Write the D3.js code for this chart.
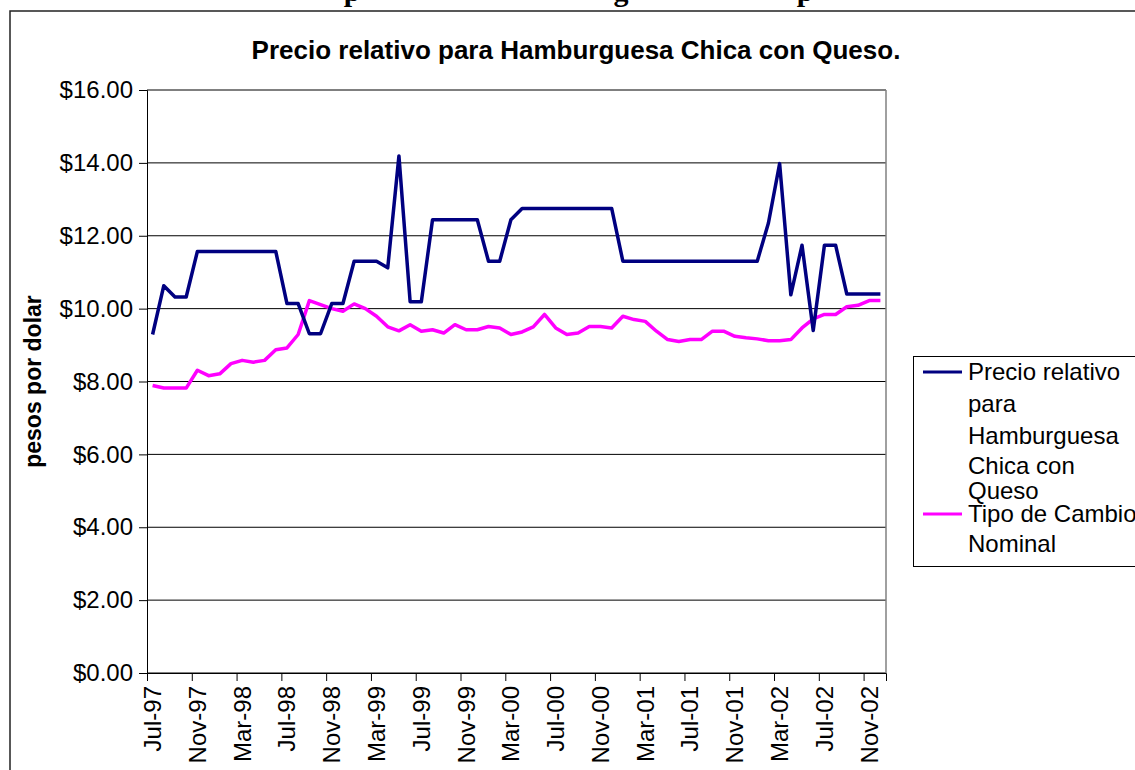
<!DOCTYPE html>
<html>
<head>
<meta charset="utf-8">
<script src="https://cdn.jsdelivr.net/npm/d3@7"></script>
<style>
  html, body { margin: 0; padding: 0; background: #fff; }
  svg { display: block; font-family: "Liberation Sans", Arial, sans-serif; }
</style>
</head>
<body>
<svg id="chart" width="1135" height="770"></svg>
<script>
// ---- data ----
const months = [
  "Jul-97","Aug-97","Sep-97","Oct-97","Nov-97","Dec-97",
  "Jan-98","Feb-98","Mar-98","Apr-98","May-98","Jun-98","Jul-98","Aug-98","Sep-98","Oct-98","Nov-98","Dec-98",
  "Jan-99","Feb-99","Mar-99","Apr-99","May-99","Jun-99","Jul-99","Aug-99","Sep-99","Oct-99","Nov-99","Dec-99",
  "Jan-00","Feb-00","Mar-00","Apr-00","May-00","Jun-00","Jul-00","Aug-00","Sep-00","Oct-00","Nov-00","Dec-00",
  "Jan-01","Feb-01","Mar-01","Apr-01","May-01","Jun-01","Jul-01","Aug-01","Sep-01","Oct-01","Nov-01","Dec-01",
  "Jan-02","Feb-02","Mar-02","Apr-02","May-02","Jun-02","Jul-02","Aug-02","Sep-02","Oct-02","Nov-02","Dec-02"
];
const precioRelativo = [
  9.29, 10.63, 10.32, 10.32, 11.57, 11.57, 11.57, 11.57, 11.57, 11.57, 11.57, 11.57,
  10.14, 10.14, 9.31, 9.31, 10.14, 10.14, 11.30, 11.30, 11.30, 11.12, 14.19, 10.19,
  10.19, 12.44, 12.44, 12.44, 12.44, 12.44, 11.30, 11.30, 12.44, 12.75, 12.75, 12.75,
  12.75, 12.75, 12.75, 12.75, 12.75, 12.75, 11.30, 11.30, 11.30, 11.30, 11.30, 11.30,
  11.30, 11.30, 11.30, 11.30, 11.30, 11.30, 11.30, 12.35, 13.98, 10.38, 11.74, 9.40,
  11.74, 11.74, 10.40, 10.40, 10.40, 10.40
];
const tipoCambio = [
  7.89, 7.82, 7.82, 7.82, 8.31, 8.16, 8.21, 8.49, 8.58, 8.53, 8.58, 8.87,
  8.92, 9.29, 10.22, 10.11, 10.00, 9.93, 10.13, 10.00, 9.79, 9.50, 9.39, 9.56,
  9.38, 9.42, 9.33, 9.56, 9.42, 9.42, 9.51, 9.47, 9.29, 9.36, 9.50, 9.84,
  9.47, 9.29, 9.33, 9.51, 9.51, 9.47, 9.79, 9.70, 9.65, 9.38, 9.15, 9.10,
  9.15, 9.15, 9.38, 9.38, 9.24, 9.20, 9.17, 9.12, 9.12, 9.15, 9.47, 9.72,
  9.84, 9.84, 10.05, 10.09, 10.22, 10.22
];
const seriesNames = ["Precio relativo para Hamburguesa Chica con Queso", "Tipo de Cambio Nominal"];
const yTicks = [0, 2, 4, 6, 8, 10, 12, 14, 16];
const xTickIdx = [0, 4, 8, 12, 16, 20, 24, 28, 32, 36, 40, 44, 48, 52, 56, 60, 64];
const chartTitle = "Precio relativo para Hamburguesa Chica con Queso.";
const yTitle = "pesos por dolar";

// ---- layout ----
const svg = d3.select("#chart");
const L = 147, R = 886, T = 90, B = 673;
const x = d3.scaleLinear().domain([0, months.length]).range([L, R]);
const y = d3.scaleLinear().domain([0, 16]).range([B, T]);

// cut-off heading at the very top (only descenders visible)
[["p", 352], ["g", 621], ["p", 805]].forEach(([ch, cx]) => {
  svg.append("text").attr("x", cx).attr("y", 1).attr("text-anchor", "middle")
    .attr("font-family", "'Liberation Serif', 'Times New Roman', serif")
    .attr("font-weight", "bold").attr("font-size", 30).attr("fill", "#000").text(ch);
});

// outer chart frame
svg.append("rect").attr("x", 10).attr("y", 11).attr("width", 1200).attr("height", 800)
  .attr("fill", "#fff").attr("stroke", "#222").attr("stroke-width", 1.5);

// title
svg.append("text").attr("x", 576).attr("y", 50).attr("dy", "0.35em")
  .attr("text-anchor", "middle").attr("font-weight", "bold").attr("font-size", 26)
  .text(chartTitle);

// gridlines
svg.append("g").selectAll("line").data(yTicks).join("line")
  .attr("x1", L).attr("x2", R).attr("y1", d => y(d)).attr("y2", d => y(d))
  .attr("stroke", "#000").attr("stroke-width", 1);

// plot right border
svg.append("line").attr("x1", R).attr("x2", R).attr("y1", T).attr("y2", B)
  .attr("stroke", "#808080").attr("stroke-width", 1.5);

// y axis
const yAxis = d3.axisLeft(y).tickValues(yTicks).tickSize(8).tickPadding(6)
  .tickFormat(d => "$" + d.toFixed(2));
const gy = svg.append("g").attr("transform", `translate(${L},0)`).call(yAxis);
gy.select(".domain").attr("stroke", "#000");
gy.selectAll(".tick line").attr("stroke", "#000");
gy.selectAll(".tick text").attr("font-size", 24).attr("fill", "#000")
  .attr("font-family", "'Liberation Sans', Arial, sans-serif");

// x axis: ticks at month boundaries, labels at month centers
const xAxis = d3.axisBottom(x).tickValues(xTickIdx).tickSize(8).tickFormat("");
const gx = svg.append("g").attr("transform", `translate(0,${B})`).call(xAxis);
gx.select(".domain").attr("stroke", "#000");
gx.selectAll(".tick line").attr("stroke", "#000");
svg.append("g").selectAll("text").data(xTickIdx).join("text")
  .attr("transform", d => `translate(${x(d + 0.5)},${B + 13}) rotate(-90)`)
  .attr("text-anchor", "end").attr("dy", "0.35em")
  .attr("font-size", 24).attr("fill", "#000")
  .text(d => months[d]);

// y title
svg.append("text").attr("transform", `translate(33,${(T + B) / 2}) rotate(-90)`)
  .attr("text-anchor", "middle").attr("dy", "0.35em")
  .attr("font-weight", "bold").attr("font-size", 23).text(yTitle);

// lines
const line = d3.line().x((d, i) => x(i + 0.5)).y(d => y(d));
svg.append("path").datum(tipoCambio).attr("d", line)
  .attr("fill", "none").attr("stroke", "#FF00FF").attr("stroke-width", 3.5)
  .attr("stroke-linejoin", "round");
svg.append("path").datum(precioRelativo).attr("d", line)
  .attr("fill", "none").attr("stroke", "#000080").attr("stroke-width", 3.5)
  .attr("stroke-linejoin", "round");

// legend
const lg = svg.append("g");
lg.append("rect").attr("x", 913.5).attr("y", 356.5).attr("width", 400).attr("height", 210)
  .attr("fill", "#fff").attr("stroke", "#000").attr("stroke-width", 1);
lg.append("line").attr("x1", 923).attr("x2", 962).attr("y1", 372).attr("y2", 372)
  .attr("stroke", "#000080").attr("stroke-width", 3);
lg.append("line").attr("x1", 923).attr("x2", 962).attr("y1", 514).attr("y2", 514)
  .attr("stroke", "#FF00FF").attr("stroke-width", 3);
const legendLines = [
  ["Precio relativo", 372], ["para", 404], ["Hamburguesa", 436], ["Chica con", 466], ["Queso", 491],
  ["Tipo de Cambio", 514], ["Nominal", 544]
];
lg.selectAll("text.lt").data(legendLines).join("text").attr("class", "lt")
  .attr("x", 968).attr("y", d => d[1]).attr("dy", "0.35em")
  .attr("font-size", 24).attr("fill", "#000").text(d => d[0]);
</script>
</body>
</html>
